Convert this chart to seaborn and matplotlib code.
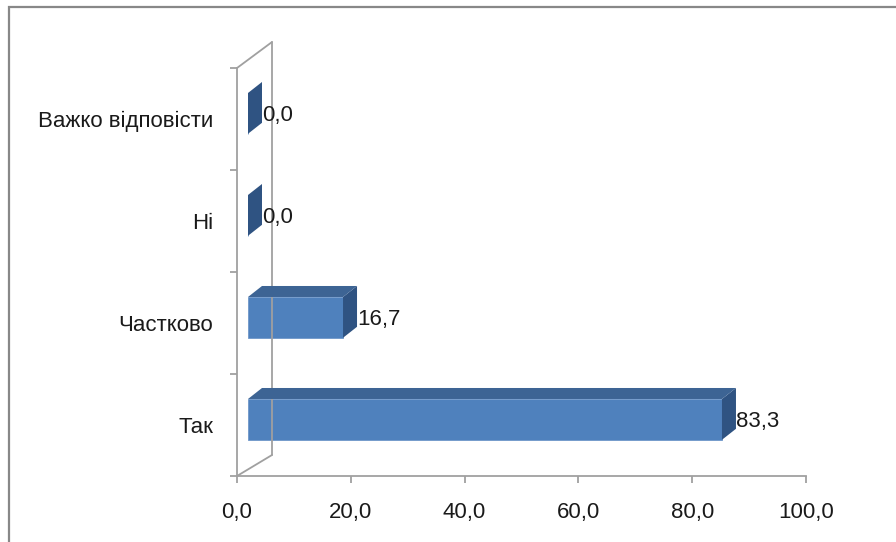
import matplotlib
matplotlib.use("Agg")
import matplotlib.pyplot as plt
from matplotlib.patches import Polygon, Rectangle
from matplotlib.transforms import offset_copy
import seaborn as sns
import pandas as pd

# дані з діаграми
categories = ["Важко відповісти", "Ні", "Частково", "Так"]
values = [0.0, 0.0, 16.7, 83.3]
x_ticks = [0, 20, 40, 60, 80, 100]
x_tick_labels = ["0,0", "20,0", "40,0", "60,0", "80,0", "100,0"]

df = pd.DataFrame({"category": categories, "value": values})

sns.set_theme(style="white")
plt.rcParams["font.family"] = ["Liberation Sans", "DejaVu Sans"]

W, H = 896, 542
fig = plt.figure(figsize=(W / 100, H / 100), dpi=100)
ax = fig.add_axes([237 / W, 66 / H, 569 / W, 408 / H])

front = "#4F81BD"
top_c = "#3D6494"
side_c = "#2F5382"
grid_c = "#A0A0A0"
txt_c = "#1a1a1a"
fs = 16

sns.barplot(data=df, x="value", y="category", orient="h", color=front,
            width=0.4, saturation=1, ax=ax, edgecolor="#6F97C9", linewidth=0.6)

# псевдо-3D: зсув у пікселях -> одиниці даних
px_x = 569 / 100.0
px_y = 408 / 4.0
x0 = 11 / px_x          # відступ передньої грані від стінки
dx = 14 / px_x          # глибина по x
dy = 11 / px_y          # глибина по y
shift = 0.055

for i, p in enumerate(ax.patches):
    v = values[i]
    y_top = i - 0.2 - shift
    y_bot = i + 0.2 - shift
    p.set_x(x0)
    p.set_y(y_top)
    xr = x0 + v
    # бічна грань
    ax.add_patch(Polygon([(xr, y_bot), (xr, y_top), (xr + dx, y_top - dy), (xr + dx, y_bot - dy)],
                         closed=True, facecolor=side_c, edgecolor="none", zorder=3))
    # верхня грань
    if v > 0:
        ax.add_patch(Polygon([(x0, y_top), (xr, y_top), (xr + dx, y_top - dy), (x0 + dx, y_top - dy)],
                             closed=True, facecolor=top_c, edgecolor="none", zorder=3))
    lbl = f"{v:.1f}".replace(".", ",")
    tr = offset_copy(ax.transData, fig=fig, x=0, y=0, units="dots")
    ax.text(xr + dx, i - 0.035, lbl, transform=tr, ha="left", va="center",
            fontsize=fs, color=txt_c)

ax.set_xlim(0, 100)
ax.set_ylim(3.5, -0.5)
ax.set_xticks(x_ticks)
ax.set_xticklabels(x_tick_labels, fontsize=fs, color=txt_c)
ax.set_yticks(range(len(categories)))
ax.set_yticklabels(categories, fontsize=fs, color=txt_c)
ax.set_yticks([-0.5, 0.5, 1.5, 2.5, 3.5], minor=True)
ax.set_xlabel("")
ax.set_ylabel("")

ax.tick_params(axis="y", which="major", length=0, pad=17)
ax.tick_params(axis="y", which="minor", length=5, width=1.3, color=grid_c, left=True)
ax.tick_params(axis="x", which="major", length=5, width=1.3, color=grid_c, bottom=True, pad=14)

for s in ["top", "right"]:
    ax.spines[s].set_visible(False)
for s in ["left", "bottom"]:
    ax.spines[s].set_color(grid_c)
    ax.spines[s].set_linewidth(1.3)

# бічна стінка
wx = 35 / 569
ax.plot([wx, wx], [21 / 408, 434 / 408], color=grid_c, lw=1.3, transform=ax.transAxes, clip_on=False)
ax.plot([0, wx], [1, 434 / 408], color=grid_c, lw=1.3, transform=ax.transAxes, clip_on=False)
ax.plot([0, wx], [0, 21 / 408], color=grid_c, lw=1.3, transform=ax.transAxes, clip_on=False)

# рамка області діаграми
fig.patches.append(Rectangle((9 / W, -0.1), 1.2, 1 - 7 / H + 0.1, transform=fig.transFigure,
                             fill=False, edgecolor="#888888", lw=1.6))

fig.savefig("out.png", dpi=100)
